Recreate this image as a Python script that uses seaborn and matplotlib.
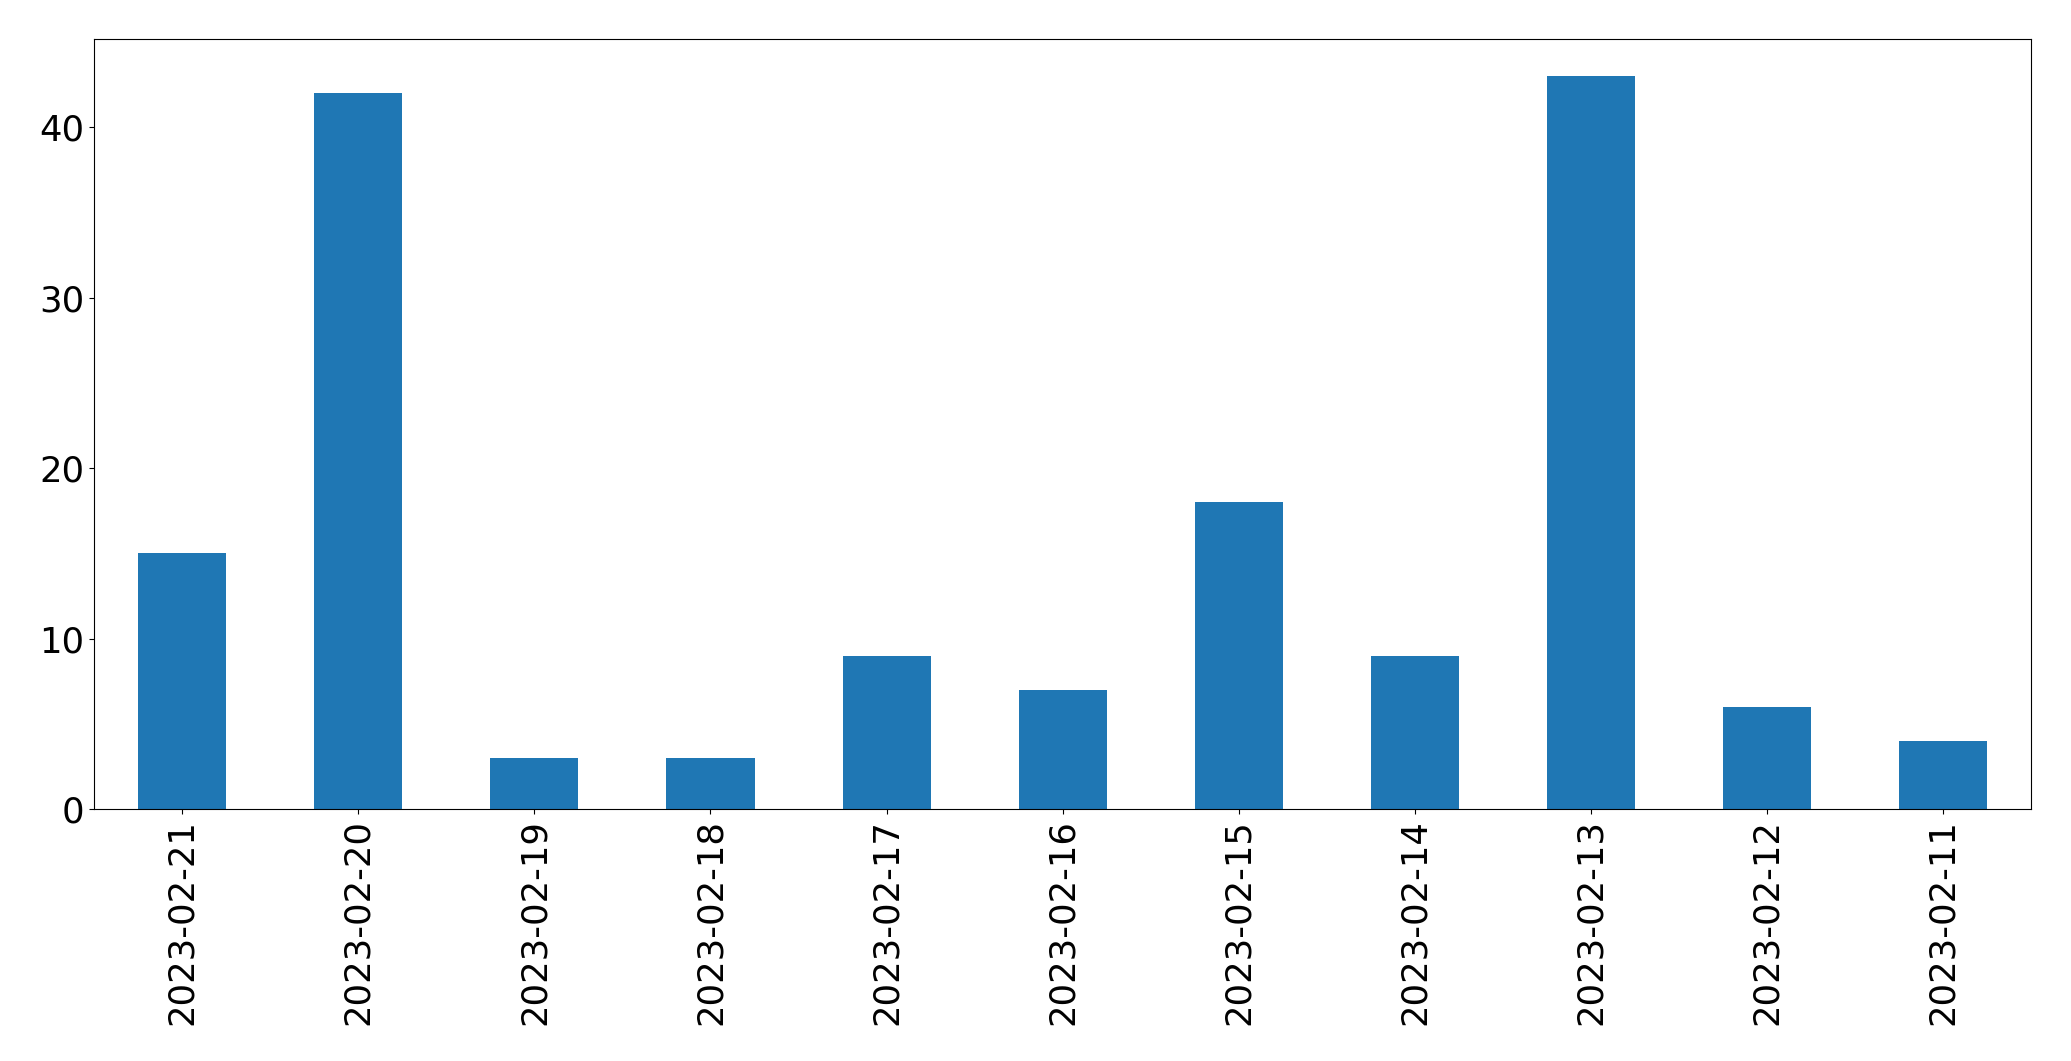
import matplotlib
matplotlib.use('Agg')
import matplotlib.pyplot as plt
import seaborn as sns
import pandas as pd

dates = ['2023-02-21', '2023-02-20', '2023-02-19', '2023-02-18', '2023-02-17',
         '2023-02-16', '2023-02-15', '2023-02-14', '2023-02-13', '2023-02-12',
         '2023-02-11']
counts = [15, 42, 3, 3, 9, 7, 18, 9, 43, 6, 4]

df = pd.DataFrame({'date': dates, 'count': counts})

plt.rcParams['font.family'] = ['DejaVu Sans']
plt.rcParams['font.size'] = 25.5

fig, ax = plt.subplots(figsize=(20.71, 10.61), dpi=100)
sns.barplot(data=df, x='date', y='count', order=dates, color='#1f77b4',
            saturation=1, width=0.5, linewidth=0, ax=ax)
ax.set_xlim(-0.5, len(dates) - 0.5)
ax.set_xlabel('')
ax.set_ylabel('')
ax.tick_params(axis='both', labelsize=25.5)
ax.tick_params(axis='x', rotation=90)

fig.subplots_adjust(left=0.0455, right=0.9807, top=0.963, bottom=0.2375)
fig.savefig('out.png', dpi=100)
